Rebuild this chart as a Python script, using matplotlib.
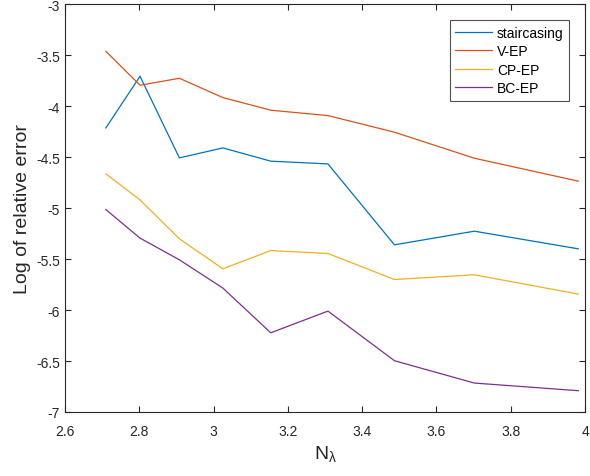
import matplotlib
matplotlib.use("Agg")
import matplotlib.pyplot as plt

plt.rcParams['font.family'] = ['Liberation Sans', 'DejaVu Sans']
plt.rcParams['mathtext.fontset'] = 'custom'
plt.rcParams['mathtext.rm'] = 'Liberation Sans'
plt.rcParams['mathtext.it'] = 'Liberation Sans:italic'

x = [2.710, 2.802, 2.908, 3.025, 3.154, 3.308, 3.487, 3.702, 3.982]
staircasing = [-4.213, -3.706, -4.507, -4.409, -4.539, -4.566, -5.360, -5.226, -5.399]
v_ep = [-3.461, -3.794, -3.726, -3.915, -4.039, -4.092, -4.255, -4.510, -4.735]
cp_ep = [-4.664, -4.919, -5.301, -5.595, -5.416, -5.445, -5.700, -5.654, -5.843]
bc_ep = [-5.014, -5.294, -5.507, -5.784, -6.223, -6.010, -6.497, -6.716, -6.791]

labels = ['staircasing', 'V-EP', 'CP-EP', 'BC-EP']
colors = ['#0072BD', '#D95319', '#EDB120', '#7E2F8E']
xticks = [2.6, 2.8, 3.0, 3.2, 3.4, 3.6, 3.8, 4.0]
xticklabels = ['2.6', '2.8', '3', '3.2', '3.4', '3.6', '3.8', '4']
yticks = [-7, -6.5, -6, -5.5, -5, -4.5, -4, -3.5, -3]
yticklabels = ['-7', '-6.5', '-6', '-5.5', '-5', '-4.5', '-4', '-3.5', '-3']

fig = plt.figure(figsize=(5.9, 4.77), dpi=100)
ax = fig.add_axes([65/590, 1 - 413/477, 520/590, (413 - 5.3)/477])

for ys, lab, c in zip([staircasing, v_ep, cp_ep, bc_ep], labels, colors):
    ax.plot(x, ys, color=c, lw=0.9, label=lab)

ax.set_xlim(2.6, 4.0)
ax.set_ylim(-7, -3)
ax.set_xticks(xticks)
ax.set_xticklabels(xticklabels)
ax.set_yticks(yticks)
ax.set_yticklabels(yticklabels)
edge = '#262626'
for s in ax.spines.values():
    s.set_color(edge)
    s.set_linewidth(0.8)
ax.tick_params(direction='in', top=True, right=True, length=4, width=0.8,
               colors=edge, labelsize=10, labelcolor=edge)
ax.tick_params(axis='x', pad=8.5)
ax.tick_params(axis='y', pad=3.5)
ax.set_xlabel(r'N$_\mathregular{λ}$', fontsize=14, color=edge, labelpad=4)
ax.set_ylabel('Log of relative error', fontsize=14, color=edge, labelpad=4)

leg = ax.legend(loc='upper right', fontsize=10,
                frameon=True, fancybox=False, borderpad=0.4, handlelength=2.6,
                handletextpad=0.4, labelspacing=0.32, borderaxespad=0.0)
leg.get_frame().set_edgecolor(edge)
leg.get_frame().set_linewidth(0.8)
leg.set_bbox_to_anchor(((569.3 - 65) / 520, 1 - (21.3 - 5.3) / (413 - 5.3)), transform=ax.transAxes)

fig.savefig('out.png', dpi=100)
